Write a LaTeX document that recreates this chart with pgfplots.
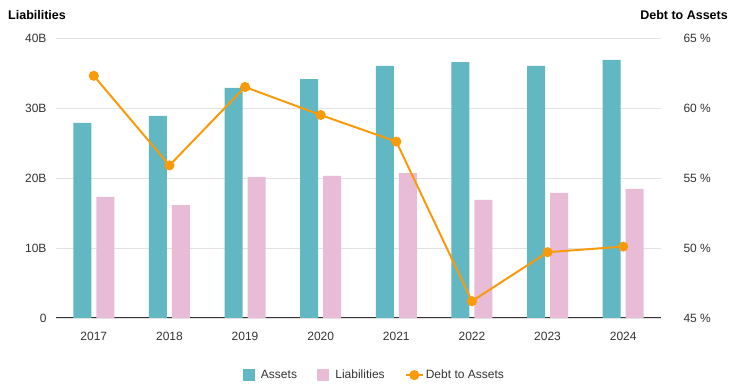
\documentclass[border=0pt]{standalone}
\usepackage{pgfplots}
\pgfplotsset{compat=1.18}
\usepackage{fontspec}
\setmainfont{Liberation Sans}
\definecolor{cAssets}{HTML}{61B8C3}
\definecolor{cLiab}{HTML}{E8BBD7}
\definecolor{cDebt}{HTML}{F99A0B}
\definecolor{cGrid}{HTML}{E2E2E2}
\definecolor{cText}{HTML}{333333}
\pgfplotstableread{
x assets liab
0 27.86 17.29
1 28.86 16.14
2 32.86 20.14
3 34.14 20.29
4 36.00 20.71
5 36.57 16.86
6 36.00 17.86
7 36.86 18.43
}\bars
\pgfplotstableread{
x dta
0 62.3
1 55.9
2 61.5
3 59.5
4 57.6
5 46.2
6 49.7
7 50.1
}\ratio
\begin{document}
\begin{tikzpicture}[x=1pt,y=1pt]
\path[use as bounding box] (0,0) rectangle (739,390);
\node[anchor=west,font=\fontsize{12.5}{14}\selectfont\bfseries,text=black,inner sep=0pt] at (8,375) {Liabilities};
\node[anchor=east,font=\fontsize{12.5}{14}\selectfont\bfseries,text=black,inner sep=0pt] at (728,375) {Debt to Assets};
\begin{axis}[
  at={(56pt,72pt)}, anchor=south west,
  scale only axis, width=605pt, height=280pt,
  xmin=-0.5, xmax=7.5, ymin=0, ymax=40,
  axis x line*=bottom, axis y line*=left,
  x axis line style={draw=cText, line width=1pt},
  y axis line style={draw=none},
  xtick={0,...,7}, xticklabels={2017,2018,2019,2020,2021,2022,2023,2024},
  major tick length=0pt,
  xticklabel style={yshift=-11pt},
  ytick={0,10,20,30,40}, yticklabels={0,10B,20B,30B,40B},
  yticklabel style={xshift=-6pt},
  ymajorgrids, grid style={cGrid, line width=0.8pt},
  ticklabel style={font=\fontsize{12}{14}\selectfont, text=cText},
  ybar, bar width=18pt,
  clip=false,
]
\addplot[draw=none, fill=cAssets, bar shift=-11.5pt] table[x=x,y=assets] {\bars};
\addplot[draw=none, fill=cLiab, bar shift=11.5pt] table[x=x,y=liab] {\bars};
\end{axis}
\begin{axis}[
  at={(56pt,72pt)}, anchor=south west,
  scale only axis, width=605pt, height=280pt,
  xmin=-0.5, xmax=7.5, ymin=45, ymax=65,
  axis x line=none, axis y line*=right,
  y axis line style={draw=none},
  major tick length=0pt,
  ytick={45,50,55,60,65}, yticklabels={45 \%,50 \%,55 \%,60 \%,65 \%},
  yticklabel style={xshift=19pt},
  ticklabel style={font=\fontsize{12}{14}\selectfont, text=cText},
  legend columns=3,
  legend style={at={(0.526,-0.204)}, anchor=center, draw=none, fill=none,
    font=\fontsize{12}{14}\selectfont, text=cText,
    /tikz/every even column/.append style={column sep=18pt}},
  clip=false,
]
\addlegendimage{legend image code/.code={\fill[cAssets] (0pt,-5.5pt) rectangle (11pt,5.5pt); \path (16pt,0pt);}}
\addlegendentry{Assets}
\addlegendimage{legend image code/.code={\fill[cLiab] (0pt,-5.5pt) rectangle (11pt,5.5pt); \path (16pt,0pt);}}
\addlegendentry{Liabilities}
\addplot[cDebt, line width=2pt, mark=*, mark size=4pt, mark options={fill=cDebt, draw=cDebt}] table[x=x,y=dta] {\ratio};
\addlegendentry{Debt to Assets}
\end{axis}
\end{tikzpicture}
\end{document}
